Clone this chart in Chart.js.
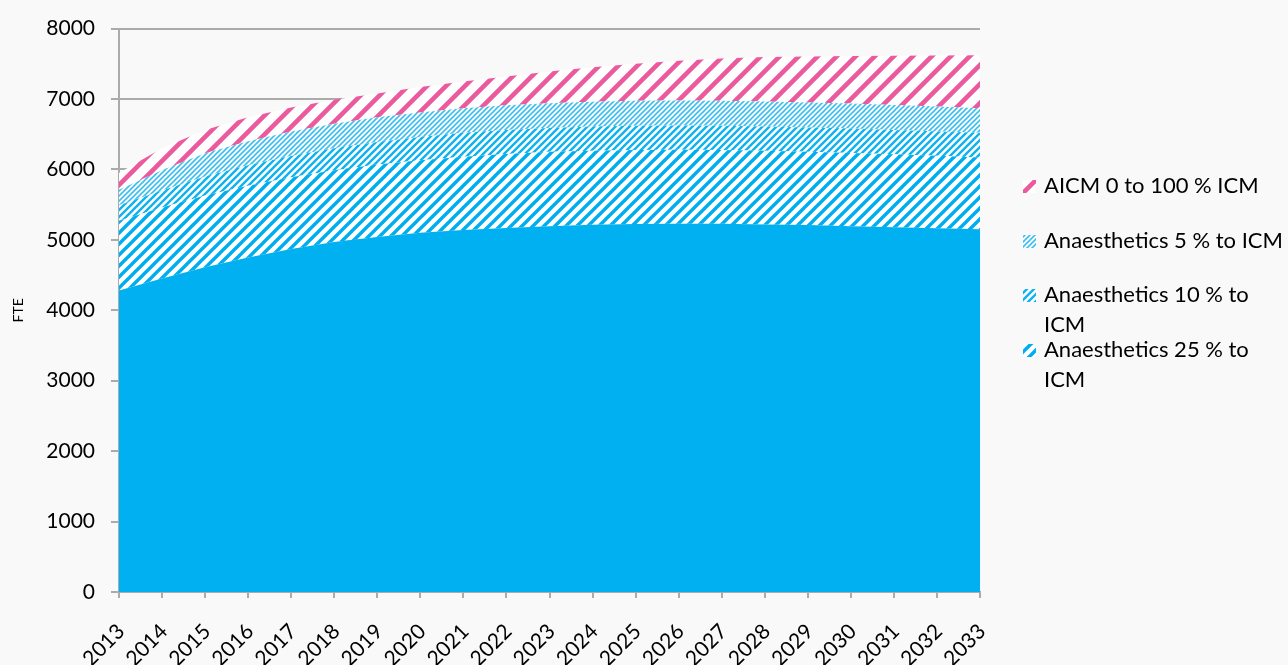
<!DOCTYPE html>
<html>
<head>
<meta charset="utf-8">
<script src="https://cdn.jsdelivr.net/npm/chart.js@4"></script>
<style>
  body { margin: 0; background: #f9f9f9; }
  #wrap { width: 1288px; height: 665px; }
</style>
</head>
<body>
<div id="wrap"><canvas id="grafico_fte" width="1288" height="665"></canvas></div>
<script>
var years = ['2013','2014','2015','2016','2017','2018','2019','2020','2021','2022','2023','2024','2025','2026','2027','2028','2029','2030','2031','2032','2033'];
var base = [4280,4450,4610,4750,4870,4970,5040,5100,5140,5170,5195,5215,5225,5230,5230,5220,5210,5195,5180,5165,5150];
var anaes25 = [990,1010,1020,1020,1020,1020,1030,1030,1040,1050,1055,1050,1050,1050,1045,1045,1040,1040,1035,1030,1020];
var anaes10 = [220,240,270,290,300,310,320,330,340,340,340,345,345,345,345,345,345,345,345,345,350];
var anaes5 = [220,290,330,340,350,350,350,350,350,350,350,350,355,355,355,355,355,355,355,355,350];
var aicm = [240,310,330,340,340,340,340,360,380,410,450,490,525,565,600,630,655,677,700,723,750];
var yTicks = [0,1000,2000,3000,4000,5000,6000,7000,8000];

var legendNames = [
    ['AICM 0 to 100 % ICM'],
    ['Anaesthetics 5 % to ICM'],
    ['Anaesthetics 10 % to', 'ICM'],
    ['Anaesthetics 25 % to', 'ICM']
];

// diagonal hatch like the excel patterns
function hatch(color, size, lw) {
    var c = document.createElement('canvas');
    c.width = size; c.height = size;
    var g = c.getContext('2d');
    g.fillStyle = '#ffffff';
    g.fillRect(0, 0, size, size);
    g.strokeStyle = color;
    g.lineWidth = lw;
    g.lineCap = 'square';
    g.beginPath();
    for (var k = -2; k <= 2; k++) {
        g.moveTo(k * size - size, 2 * size);
        g.lineTo(k * size + 2 * size, -size);
    }
    g.stroke();
    return g.createPattern(c, 'repeat');
}

var pinkPat = hatch('#ea5a9d', 19, 4.6);
var fivePat = hatch('#3cbff1', 5, 1.6);
var tenPat = hatch('#10b2ef', 7, 2.4);
var wide25Pat = hatch('#00aeef', 11, 3.4);
var gridGrey = '#ababab';
var fontFam = 'Lato, "Open Sans", sans-serif';

var bgPlugin = {
    id: 'bg',
    beforeDraw: function (chart) {
        var ctx = chart.ctx;
        ctx.save();
        ctx.fillStyle = '#f9f9f9';
        ctx.fillRect(0, 0, chart.width, chart.height);
        ctx.restore();
    }
};

var legendPlugin = {
    id: 'sideLegend',
    afterDraw: function (chart) {
        var ctx = chart.ctx;
        var pats = [pinkPat, fivePat, tenPat, wide25Pat];
        var rows = [186, 241, 295, 350];
        ctx.save();
        ctx.font = '22px ' + fontFam;
        ctx.textBaseline = 'middle';
        for (var i = 0; i < 4; i++) {
            ctx.fillStyle = pats[i];
            ctx.fillRect(1023, rows[i] - 6, 13, 13);
            ctx.fillStyle = '#000';
            for (var j = 0; j < legendNames[i].length; j++) {
                ctx.fillText(legendNames[i][j], 1044, rows[i] + j * 30);
            }
        }
        ctx.restore();
    }
};

var ctx = document.getElementById('grafico_fte').getContext('2d');
var myChart = new Chart(ctx, {
    type: 'line',
    data: {
        labels: years,
        datasets: [
            { label: 'Base', data: base, backgroundColor: '#00b0f0', fill: 'origin' },
            { label: 'Anaesthetics 25 % to ICM', data: anaes25, backgroundColor: wide25Pat, fill: '-1' },
            { label: 'Anaesthetics 10 % to ICM', data: anaes10, backgroundColor: tenPat, fill: '-1' },
            { label: 'Anaesthetics 5 % to ICM', data: anaes5, backgroundColor: fivePat, fill: '-1' },
            { label: 'AICM 0 to 100 % ICM', data: aicm, backgroundColor: pinkPat, fill: '-1' }
        ]
    },
    options: {
        responsive: false,
        animation: false,
        elements: {
            point: { radius: 0 },
            line: { borderWidth: 0, tension: 0 }
        },
        layout: { padding: { top: 28, right: 308, bottom: 0, left: 0 } },
        plugins: {
            legend: { display: false },
            tooltip: { enabled: false }
        },
        scales: {
            x: {
                offset: false,
                grid: { drawOnChartArea: false, color: gridGrey, lineWidth: 2, tickLength: 6 },
                border: { color: gridGrey, width: 2 },
                ticks: {
                    color: '#000',
                    font: { family: fontFam, size: 21 },
                    minRotation: 45, maxRotation: 45, autoSkip: false,
                    padding: 21, labelOffset: 2
                },
                afterFit: function (s) { s.height = 73; }
            },
            y: {
                stacked: true,
                min: 0, max: 8000,
                afterBuildTicks: function (s) { s.ticks = yTicks.map(function (v) { return { value: v }; }); },
                grid: { color: gridGrey, lineWidth: 2, tickLength: 8 },
                border: { color: gridGrey, width: 2 },
                ticks: {
                    color: '#000',
                    font: { family: fontFam, size: 21 },
                    padding: 16,
                    callback: function (v) { return String(v); }
                },
                title: {
                    display: true, text: 'FTE', color: '#000',
                    font: { family: fontFam, size: 14 },
                    padding: { top: 10, bottom: 0 }
                },
                afterFit: function (s) { s.width = 119; }
            }
        }
    },
    plugins: [bgPlugin, legendPlugin]
});
</script>
</body>
</html>
